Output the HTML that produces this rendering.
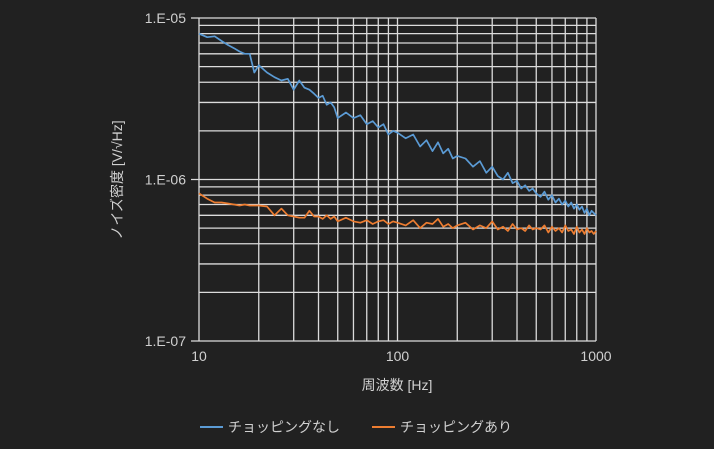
<!DOCTYPE html>
<html><head><meta charset="utf-8"><style>
html,body{margin:0;padding:0;background:#212121;}
svg{display:block;font-family:"Liberation Sans","Noto Sans CJK JP",sans-serif;}
</style></head><body>
<svg id="chart" width="714" height="449" viewBox="0 0 714 449">
<rect width="714" height="449" fill="#212121"/>
<g id="grid"></g>
<g id="ylabels"></g>
<g id="xlabels"></g>
<g id="series"></g>
<text x="397" y="390" fill="#d0d0d0" font-size="14" text-anchor="middle">周波数 [Hz]</text>
<text transform="translate(122,180) rotate(-90)" fill="#d0d0d0" font-size="14" text-anchor="middle">ノイズ密度 [V/√Hz]</text>
<g>
<g>
<line x1="200" y1="427" x2="223" y2="427" stroke="#5b9bd5" stroke-width="2"/>
<text x="228" y="432" fill="#d0d0d0" font-size="14">チョッピングなし</text></g>
<g>
<line x1="372" y1="427" x2="395" y2="427" stroke="#ed7d31" stroke-width="2"/>
<text x="400" y="432" fill="#d0d0d0" font-size="14">チョッピングあり</text></g>
</g>
</svg>
<script>
const freqs=[10,11,12,13,14,15,16,17,18,19,20,
22,24,26,28,30,32,34,36,38,40,42,44,46,48,50,
55,60,65,70,75,80,85,90,95,100,
110,120,130,140,150,160,170,180,190,200,
220,240,260,280,300,320,340,360,380,400,420,440,460,480,500,
525,550,575,600,625,650,675,700,725,750,775,800,825,850,875,900,925,950,975,1000];
const noChopping=[8.0,7.6,7.7,7.2,6.8,6.5,6.2,6.0,6.0,4.6,5.1,
4.6,4.3,4.1,4.2,3.6,4.1,3.7,3.6,3.4,3.2,3.3,2.9,3.0,2.8,2.4,
2.6,2.4,2.5,2.2,2.3,2.1,2.2,1.9,2.0,1.95,
1.8,1.9,1.6,1.75,1.5,1.7,1.45,1.55,1.35,1.4,
1.35,1.2,1.3,1.1,1.2,1.05,1.0,1.1,0.95,0.98,0.88,0.92,0.85,0.88,0.82,
0.78,0.84,0.75,0.8,0.72,0.76,0.7,0.74,0.68,0.72,0.66,0.7,0.65,0.68,0.62,0.66,0.6,0.64,0.62,0.6].map(v=>v*1e-6);
const chopping=[8.2,7.6,7.2,7.2,7.1,7.0,6.9,7.0,6.9,6.9,6.9,
6.8,6.0,6.6,6.0,5.9,5.8,5.8,6.4,5.9,5.9,5.7,6.0,5.7,5.9,5.5,
5.8,5.5,5.4,5.6,5.3,5.5,5.6,5.3,5.5,5.4,
5.2,5.6,5.0,5.4,5.3,5.7,5.1,5.3,5.0,5.2,
5.4,4.9,5.2,5.0,5.5,4.9,5.1,4.8,5.3,4.9,5.0,4.8,5.2,4.9,5.0,
4.9,5.2,4.7,5.1,4.8,5.0,4.7,5.2,4.8,4.9,4.6,5.1,4.7,4.9,4.6,5.0,4.7,4.8,4.6,4.8].map(v=>v*1e-7);
const xTickLabels=["10","100","1000"];
const yTickLabels=["1.E-07","1.E-06","1.E-05"];

const NS="http://www.w3.org/2000/svg";
const X0=199,X1=596,Y0=341,Y1=18;
const xMin=1,xMax=3,yMin=-7,yMax=-5;
function sx(f){return X0+(Math.log10(f)-xMin)/(xMax-xMin)*(X1-X0);}
function sy(v){return Y0-(Math.log10(v)-yMin)/(yMax-yMin)*(Y0-Y1);}
function mk(tag,attrs,parent){const e=document.createElementNS(NS,tag);for(const k in attrs)e.setAttribute(k,attrs[k]);parent.appendChild(e);return e;}

const grid=document.getElementById('grid');
for(let d=1;d<3;d++)for(let m=1;m<=10;m++){
  if(m===10&&d<2)continue;
  const x=sx(m*Math.pow(10,d));
  const l=mk('line',{x1:x,x2:x,y1:Y1,y2:Y0,stroke:'#dcdcdc','stroke-width':1.3},grid);
  
  
}
for(let d=-7;d<-5;d++)for(let m=1;m<=10;m++){
  if(m===10&&d<-6)continue;
  const y=sy(m*Math.pow(10,d));
  const major=(m===1||m===10);
  const l=mk('line',{x1:major?X0-8:X0,x2:X1,y1:y,y2:y,stroke:'#dcdcdc','stroke-width':1.3},grid);
  
  
}
const yl=document.getElementById('ylabels');
yTickLabels.forEach((t,i)=>{
  const e=mk('text',{x:186,y:sy(Math.pow(10,yMin+i))+5,fill:'#d0d0d0','font-size':14,'text-anchor':'end'},yl);
  e.textContent=t;
  
  
});
const xl=document.getElementById('xlabels');
xTickLabels.forEach((t,i)=>{
  const e=mk('text',{x:sx(Math.pow(10,xMin+i)),y:361,fill:'#d0d0d0','font-size':14,'text-anchor':'middle'},xl);
  e.textContent=t;
  
  
});
const sg=document.getElementById('series');
function line(vals,color,name){
  const d=freqs.map((f,i)=>(i?'L':'M')+sx(f).toFixed(1)+','+sy(vals[i]).toFixed(1)).join(' ');
  const p=mk('path',{d:d,fill:'none',stroke:color,'stroke-width':1.7,'stroke-linejoin':'round'},sg);
  
  
}
line(noChopping,'#5b9bd5','series-no-chopping');
line(chopping,'#ed7d31','series-chopping');
</script>
</body></html>
